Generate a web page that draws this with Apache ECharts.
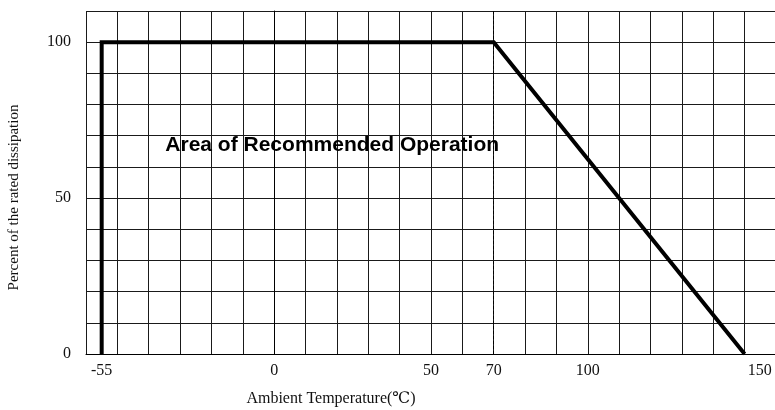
<!DOCTYPE html>
<html>
<head>
<meta charset="utf-8">
<title>Derating curve</title>
<script src="https://cdn.jsdelivr.net/npm/echarts@6/dist/echarts.min.js"></script>
<style>
    html, body { margin: 0; padding: 0; background: #fff; }
    #derating-box { width: 775px; height: 410px; }
</style>
</head>
<body>
<div id="derating-box"></div>
<script>
    // 曲线拐点 (温度, 额定功率百分比)
    var curveTemps = [-55, -55, 70, 150];
    var curvePercents = [0, 100, 100, 0];
    // 虚线位置
    var kneeTemp = 70;
    // 坐标轴刻度文字
    var xTickLabels = [-55, 0, 50, 70, 100, 150];
    var yTickLabels = [0, 50, 100];
    // 图中文字及位置
    var areaText = 'Area of Recommended Operation';
    var areaAt = [18.5, 67];

    var curveData = curveTemps.map(function (t, i) { return [t, curvePercents[i]]; });

    var serif = '"Liberation Serif", "DejaVu Serif", serif';
    var gridLine = { show: true, lineStyle: { color: '#1a1a1a', width: 1 } };

    var _chart = echarts.init(document.getElementById('derating-box'));
    var _options = {
        backgroundColor: '#fff',
        animation: false,
        grid: { left: 86, right: -1, top: 11, bottom: 56, outerBoundsMode: 'none', containLabel: false },
        xAxis: {
            type: 'value',
            min: -60,
            max: 160,
            interval: 10,
            name: 'Ambient Temperature(℃)',
            nameLocation: 'middle',
            nameGap: 37,
            nameTextStyle: { fontFamily: serif, fontSize: 16, color: '#111', padding: [0, 200, 0, 0] },
            axisLine: { show: true, lineStyle: { color: '#000', width: 1 } },
            axisTick: { show: false },
            splitLine: gridLine,
            axisLabel: {
                customValues: xTickLabels,
                margin: 9,
                fontFamily: serif,
                fontSize: 16,
                color: '#111',
                formatter: function (v) {
                    return v === 150 ? '{far|' + v + '}' : String(v);
                },
                rich: {
                    far: { fontFamily: serif, fontSize: 16, color: '#111', padding: [0, 0, 4, 30] }
                }
            }
        },
        yAxis: {
            type: 'value',
            min: 0,
            max: 110,
            interval: 10,
            name: 'Percent of the rated dissipation',
            nameLocation: 'middle',
            nameGap: 64,
            nameTextStyle: { fontFamily: serif, fontSize: 15, color: '#111', padding: [0, 30, 0, 0] },
            axisLine: { show: true, lineStyle: { color: '#000', width: 1 } },
            axisTick: { show: false },
            splitLine: gridLine,
            axisLabel: {
                customValues: yTickLabels,
                margin: 15,
                fontFamily: serif,
                fontSize: 16,
                color: '#111'
            }
        },
        series: [{
            name: 'derating',
            type: 'line',
            data: curveData,
            symbol: 'none',
            lineStyle: { color: '#000', width: 4, join: 'miter' },
            markLine: {
                silent: true,
                symbol: 'none',
                label: { show: false },
                lineStyle: { color: '#000', width: 1, type: [3, 2] },
                data: [{ xAxis: kneeTemp }]
            },
            markPoint: {
                silent: true,
                symbol: 'circle',
                symbolSize: 0,
                label: {
                    show: true,
                    position: 'inside',
                    formatter: areaText,
                    fontFamily: '"Liberation Sans", Arial, sans-serif',
                    fontWeight: 'bold',
                    fontSize: 21,
                    color: '#000'
                },
                data: [{ coord: areaAt }]
            }
        }]
    };
    _chart.setOption(_options);
</script>
</body>
</html>
